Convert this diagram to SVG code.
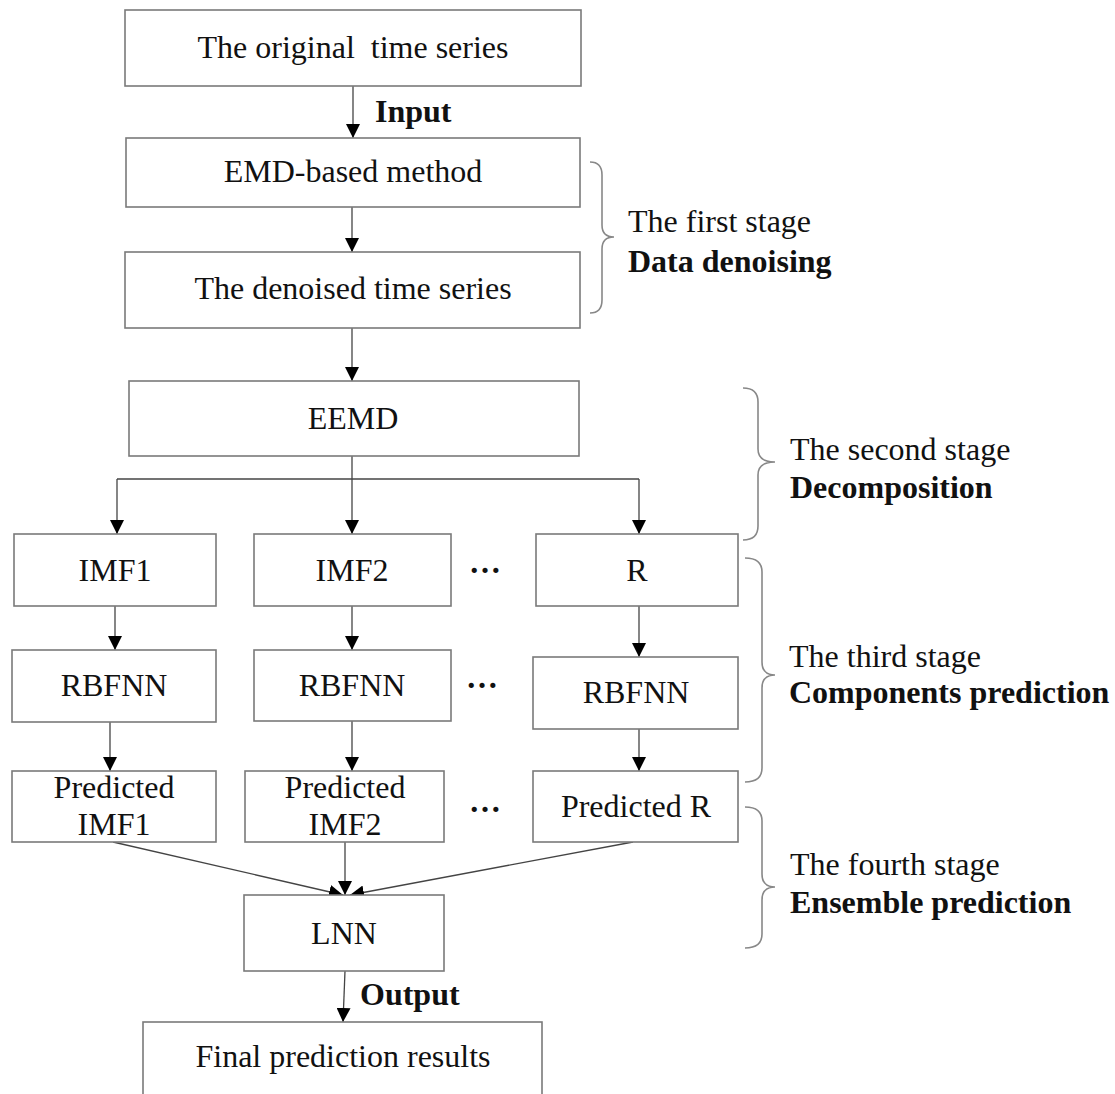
<svg xmlns="http://www.w3.org/2000/svg" width="1115" height="1094" viewBox="0 0 1115 1094">
<defs>
<style>
.box{fill:#fff;stroke:#7a7a7a;stroke-width:1.6}
.t{font-family:"Liberation Serif","Times New Roman",serif;font-size:32px;fill:#111}
.c{text-anchor:middle}
.b{font-weight:bold}
.ln{fill:none;stroke:#444;stroke-width:1.3}
.br{fill:none;stroke:#888;stroke-width:1.6}
</style>
<marker id="ah" markerUnits="userSpaceOnUse" markerWidth="14" markerHeight="14" viewBox="0 0 14 14" refX="14" refY="7" orient="auto">
<path d="M0,0 L14,7 L0,14 Z" fill="#000"/>
</marker>
</defs>
<rect width="1115" height="1094" fill="#fff"/>

<g id="connectors">
<line class="ln" x1="353" y1="86" x2="353" y2="138" marker-end="url(#ah)"/>
<line class="ln" x1="352" y1="207" x2="352" y2="252" marker-end="url(#ah)"/>
<line class="ln" x1="352" y1="328" x2="352" y2="381" marker-end="url(#ah)"/>
<polyline class="ln" points="352,456 352,479"/>
<polyline class="ln" points="117,479 639,479"/>
<line class="ln" x1="117" y1="479" x2="117" y2="534" marker-end="url(#ah)"/>
<line class="ln" x1="352" y1="479" x2="352" y2="534" marker-end="url(#ah)"/>
<line class="ln" x1="639" y1="479" x2="639" y2="534" marker-end="url(#ah)"/>
<line class="ln" x1="115" y1="606" x2="115" y2="650" marker-end="url(#ah)"/>
<line class="ln" x1="352" y1="606" x2="352" y2="650" marker-end="url(#ah)"/>
<line class="ln" x1="639" y1="606" x2="639" y2="657" marker-end="url(#ah)"/>
<line class="ln" x1="110" y1="722" x2="110" y2="771" marker-end="url(#ah)"/>
<line class="ln" x1="352" y1="721" x2="352" y2="771" marker-end="url(#ah)"/>
<line class="ln" x1="639" y1="729" x2="639" y2="771" marker-end="url(#ah)"/>
<line class="ln" x1="113" y1="842" x2="343" y2="895" marker-end="url(#ah)"/>
<line class="ln" x1="345" y1="842" x2="345" y2="895" marker-end="url(#ah)"/>
<line class="ln" x1="633" y1="842" x2="350" y2="895" marker-end="url(#ah)"/>
<line class="ln" x1="345" y1="971" x2="343" y2="1022" marker-end="url(#ah)"/>
</g>

<g id="labels">
<text class="t b" x="375" y="122">Input</text>
<text class="t b" x="360" y="1005">Output</text>
</g>

<g id="n-original"><rect class="box" x="125" y="10" width="456" height="76"/><text class="t c" x="353" y="58" xml:space="preserve">The original  time series</text></g>
<g id="n-emd"><rect class="box" x="126" y="138" width="454" height="69"/><text class="t c" x="353" y="182">EMD-based method</text></g>
<g id="n-denoised"><rect class="box" x="125" y="252" width="455" height="76"/><text class="t c" x="353" y="299">The denoised time series</text></g>
<g id="n-eemd"><rect class="box" x="129" y="381" width="450" height="75"/><text class="t c" x="353" y="429">EEMD</text></g>

<g id="n-imf1"><rect class="box" x="14" y="534" width="202" height="72"/><text class="t c" x="115" y="581">IMF1</text></g>
<g id="n-imf2"><rect class="box" x="254" y="534" width="197" height="72"/><text class="t c" x="352" y="581">IMF2</text></g>
<g id="n-r"><rect class="box" x="536" y="534" width="202" height="72"/><text class="t c" x="637" y="581">R</text></g>
<g id="dots1"><text class="t c b" x="485" y="573">…</text></g>

<g id="n-rbf1"><rect class="box" x="12" y="650" width="204" height="72"/><text class="t c" x="114" y="696">RBFNN</text></g>
<g id="n-rbf2"><rect class="box" x="254" y="650" width="197" height="71"/><text class="t c" x="352" y="696">RBFNN</text></g>
<g id="n-rbfr"><rect class="box" x="533" y="657" width="205" height="72"/><text class="t c" x="636" y="703">RBFNN</text></g>
<g id="dots2"><text class="t c b" x="482" y="688">…</text></g>

<g id="n-pimf1"><rect class="box" x="12" y="771" width="204" height="71"/><text class="t c" x="114" y="798">Predicted</text><text class="t c" x="114" y="835">IMF1</text></g>
<g id="n-pimf2"><rect class="box" x="245" y="771" width="199" height="71"/><text class="t c" x="345" y="798">Predicted</text><text class="t c" x="345" y="835">IMF2</text></g>
<g id="n-pr"><rect class="box" x="533" y="771" width="205" height="71"/><text class="t c" x="636" y="817">Predicted R</text></g>
<g id="dots3"><text class="t c b" x="485" y="812">…</text></g>

<g id="n-lnn"><rect class="box" x="244" y="895" width="200" height="76"/><text class="t c" x="344" y="944">LNN</text></g>
<g id="n-final"><rect class="box" x="143" y="1022" width="399" height="90"/><text class="t c" x="343" y="1067">Final prediction results</text></g>

<g id="braces">
<path class="br" d="M590,162 Q602,162 602,175 L602,225 Q602,237 614,237 Q602,237 602,249 L602,300 Q602,313 590,313"/>
<path class="br" d="M743,388 Q758,388 758,402 L758,449 Q758,462 775,462 Q758,462 758,475 L758,526 Q758,540 743,540"/>
<path class="br" d="M745,558 Q762,558 762,572 L762,662 Q762,675 775,675 Q762,675 762,688 L762,768 Q762,782 745,782"/>
<path class="br" d="M745,807 Q762,807 762,821 L762,874 Q762,887 775,887 Q762,887 762,900 L762,934 Q762,948 745,948"/>
</g>

<g id="stages">
<text class="t" x="628" y="232">The first stage</text>
<text class="t b" x="628" y="272">Data denoising</text>
<text class="t" x="790" y="460">The second stage</text>
<text class="t b" x="790" y="498">Decomposition</text>
<text class="t" x="789" y="667">The third stage</text>
<text class="t b" x="789" y="703">Components prediction</text>
<text class="t" x="790" y="875">The fourth stage</text>
<text class="t b" x="790" y="913">Ensemble prediction</text>
</g>
</svg>
